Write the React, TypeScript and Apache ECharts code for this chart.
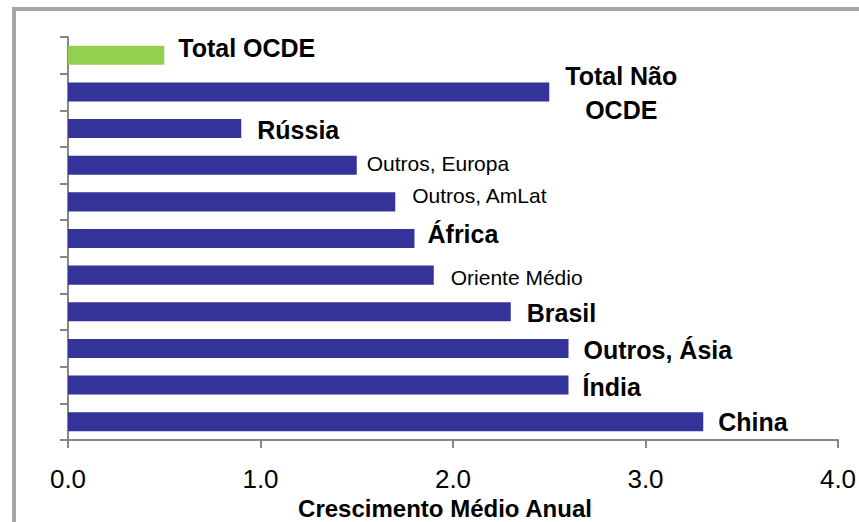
import React, { useEffect, useRef } from "react";
import * as echarts from "echarts";

const categories = [
  "Total OCDE",
  "Total Não OCDE",
  "Rússia",
  "Outros, Europa",
  "Outros, AmLat",
  "África",
  "Oriente Médio",
  "Brasil",
  "Outros, Ásia",
  "Índia",
  "China",
];
const values = [0.5, 2.5, 0.9, 1.5, 1.7, 1.8, 1.9, 2.3, 2.6, 2.6, 3.3];
const labelTexts = [
  "Total OCDE",
  "Total Não\nOCDE",
  "Rússia",
  "Outros, Europa",
  "Outros, AmLat",
  "África",
  "Oriente Médio",
  "Brasil",
  "Outros, Ásia",
  "Índia",
  "China",
];
const bigLabel = [true, true, true, false, false, true, false, true, true, true, true];
const highlighted = [true, false, false, false, false, false, false, false, false, false, false];
const xTicks = [0, 1, 2, 3, 4];
const axisTitle = "Crescimento Médio Anual";

const FONT = "'Liberation Sans', Arial, sans-serif";
const BLUE = "#333399";
const GREEN = "#92D050";
const AXIS_GRAY = "#868686";

// label placement tweaks (pixels), per category
const labelDistance = [14, 15, 16, 10, 17, 13, 17, 16, 15, 14, 15];
const labelOffsetY = [-7, 1, 1, -2, -6, -5, 2, 1, 2, 2, 0];

export default function App() {
  const ref = useRef<HTMLDivElement>(null);

  useEffect(() => {
    if (!ref.current) return;
    const chart = echarts.init(ref.current, null, { renderer: "svg" });

    const data = values.map((v, i) => {
      const big = bigLabel[i];
      const multi = labelTexts[i].includes("\n");
      return {
        value: v,
        itemStyle: { color: highlighted[i] ? GREEN : BLUE },
        label: {
          show: true,
          position: "right",
          distance: labelDistance[i],
          formatter: labelTexts[i],
          fontFamily: FONT,
          fontSize: big ? 25 : 21,
          fontWeight: big ? "bold" : "normal",
          color: "#000",
          align: multi ? "center" : "left",
          lineHeight: multi ? 34 : undefined,
          offset: [multi ? 57 : 0, labelOffsetY[i]],
        },
      };
    });

    chart.setOption({
      animation: false,
      backgroundColor: "#fff",
      grid: {
        left: 68,
        right: 21,
        top: 37,
        bottom: 82,
        containLabel: false,
        outerBoundsMode: "none",
      },
      xAxis: {
        type: "value",
        min: xTicks[0],
        max: xTicks[xTicks.length - 1],
        interval: 1,
        splitLine: { show: false },
        axisLine: { show: true, lineStyle: { color: AXIS_GRAY, width: 2 } },
        axisTick: { show: true, length: 8, lineStyle: { color: AXIS_GRAY, width: 2 } },
        axisLabel: {
          margin: 26,
          fontFamily: FONT,
          fontSize: 26,
          color: "#000",
          formatter: (v: number) => v.toFixed(1),
        },
        name: axisTitle,
        nameLocation: "middle",
        nameGap: 54,
        nameTextStyle: {
          fontFamily: FONT,
          fontSize: 24,
          fontWeight: "bold",
          color: "#000",
          padding: [0, 16, 0, 0],
        },
      },
      yAxis: {
        type: "category",
        data: categories,
        inverse: true,
        axisLine: { show: true, lineStyle: { color: AXIS_GRAY, width: 2 } },
        axisTick: { show: true, length: 8, lineStyle: { color: AXIS_GRAY, width: 2 } },
        axisLabel: { show: false },
        splitLine: { show: false },
      },
      series: [
        {
          type: "bar",
          data,
          barCategoryGap: "48%",
        },
      ],
      graphic: [
        {
          type: "rect",
          shape: { x: 14, y: 9, width: 1000, height: 700 },
          style: { fill: "none", stroke: "#a6a6a6", lineWidth: 4 },
          silent: true,
        },
      ],
    });

    return () => chart.dispose();
  }, []);

  return (
    <div
      ref={ref}
      style={{ position: "absolute", left: 0, top: 0, width: 859, height: 522 }}
    />
  );
}
